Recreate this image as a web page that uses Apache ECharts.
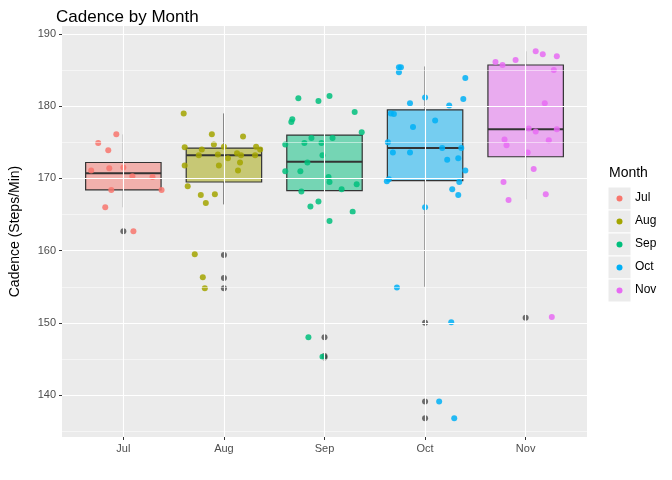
<!DOCTYPE html>
<html>
<head>
<meta charset="utf-8">
<script src="https://cdn.jsdelivr.net/npm/echarts@6/dist/echarts.min.js"></script>
<style>html,body{margin:0;padding:0;background:#fff}#chart{width:672px;height:480px}</style>
</head>
<body>
<div id="chart"></div>
<script>
// 月份 & 颜色
const months = ['Jul', 'Aug', 'Sep', 'Oct', 'Nov'];
const colors = ['#F8766D', '#A3A500', '#00BF7D', '#00B0F6', '#E76BF3'];
const yTicks = [140, 150, 160, 170, 180, 190];

// 箱线: [下须, Q1, 中位数, Q3, 上须]
const boxStats = [
    [166.0, 168.4, 170.7, 172.2, 176.1],
    [166.4, 169.5, 173.2, 174.2, 179.0],
    [164.1, 168.3, 172.3, 176.0, 181.5],
    [155.0, 169.7, 174.2, 179.5, 185.5],
    [167.1, 173.0, 176.8, 185.7, 187.6]
];

// 离群点 [组序号, 值]
const outliers = [
    [1, 162.7], [2, 159.4], [2, 156.2], [2, 154.8], [3, 148.0], [3, 145.4], [3, 145.2],
    [4, 150.0], [4, 139.1], [4, 136.8], [5, 150.7]
];

// 抖动点 [偏移, 值]
const julPts = [[-.07,176.1],[-.25,174.9],[-.15,173.9],[-.32,171.1],[-.14,171.4],[0,171.5],[.09,170.3],[.29,170.2],[-.12,168.4],[.38,168.4],[-.18,166.0],[.10,162.7]];
const augPts = [[-.4,179.0],[-.12,176.1],[.19,175.8],[-.1,174.7],[-.39,174.3],[0,174.4],[.32,174.4],[-.22,174.0],[.36,174.0],[-.25,173.2],[-.06,173.3],[.13,173.5],[.17,173.2],[.31,173.2],[.04,172.8],[.16,172.2],[-.39,171.8],[-.05,171.8],[.14,171.1],[-.36,168.9],[-.23,167.7],[-.09,167.8],[-.18,166.6],[-.29,159.5],[-.21,156.3],[-.19,154.8]];
const sepPts = [[-.26,181.1],[-.06,180.7],[.05,181.4],[.3,179.2],[-.32,178.2],[-.33,177.8],[.37,176.4],[-.13,175.6],[.08,175.6],[-.39,174.7],[-.2,174.9],[-.03,174.9],[-.02,173.2],[-.17,172.2],[-.39,171.0],[-.24,171.0],[.04,170.2],[.05,169.5],[.32,169.2],[.17,168.5],[-.23,168.2],[-.06,166.8],[-.14,166.1],[.28,165.4],[.05,164.1],[-.16,148.0],[-.02,145.3]];
const octPts = [[-.26,185.4],[-.24,185.4],[-.26,184.7],[.4,183.9],[-.15,180.4],[0,181.2],[.24,180.1],[.38,181.0],[-.34,179.0],[-.31,178.9],[-.12,177.1],[.1,178.0],[-.37,175.0],[-.32,173.6],[-.15,173.6],[.17,174.2],[.36,174.2],[.22,172.6],[.33,172.8],[.4,171.1],[-.38,169.6],[-.36,169.9],[.34,169.5],[.27,168.5],[.33,167.7],[0,166.0],[-.28,154.9],[.26,150.1],[.14,139.1],[.29,136.8]];
const novPts = [[.1,187.6],[.17,187.2],[.31,186.9],[-.3,186.1],[-.23,185.7],[-.1,186.4],[.28,185.0],[.19,180.4],[.03,176.9],[.1,176.5],[.31,176.8],[-.21,175.4],[.23,175.3],[-.19,174.6],[.02,173.6],[.08,171.3],[-.22,169.5],[.2,167.8],[-.17,167.0],[.26,150.8]];
const allPts = [julPts, augPts, sepPts, octPts, novPts];

let myChart = echarts.init(document.getElementById('chart'));

// 网格线（主/次）
let gridLines = [];
for (let v = 135; v <= 190; v += 5) {
    gridLines.push({ yAxis: v, lineStyle: { color: '#fff', width: v % 10 === 0 ? 1.1 : 0.5, type: 'solid' } });
}
for (let i = 1; i <= 5; i++) {
    gridLines.push({ xAxis: i, lineStyle: { color: '#fff', width: 1.1, type: 'solid' } });
}

let series = [{
    type: 'scatter',
    data: [],
    silent: true,
    markLine: { silent: true, symbol: 'none', label: { show: false }, data: gridLines },
    z: 1
}];

// 箱体
series.push({
    type: 'custom',
    z: 2,
    silent: true,
    data: boxStats.map((s, i) => [i + 1].concat(s)),
    renderItem: function (params, api) {
        let x = api.value(0), i = params.dataIndex;
        let lo = api.coord([x, api.value(1)]), q1 = api.coord([x - 0.375, api.value(2)]);
        let md = api.coord([x, api.value(3)]), q3 = api.coord([x + 0.375, api.value(4)]);
        let hi = api.coord([x, api.value(5)]);
        let st = { stroke: '#333', lineWidth: 1 };
        return {
            type: 'group',
            children: [
                { type: 'line', shape: { x1: lo[0], y1: lo[1], x2: lo[0], y2: q1[1] }, style: st },
                { type: 'line', shape: { x1: hi[0], y1: hi[1], x2: hi[0], y2: q3[1] }, style: st },
                { type: 'rect', shape: { x: q1[0], y: q3[1], width: q3[0] - q1[0], height: q1[1] - q3[1] },
                  style: { fill: colors[i], opacity: 0.5, stroke: 'transparent' } },
                { type: 'rect', shape: { x: q1[0], y: q3[1], width: q3[0] - q1[0], height: q1[1] - q3[1] },
                  style: { fill: 'none', stroke: '#333', lineWidth: 1.2 } },
                { type: 'line', shape: { x1: q1[0], y1: md[1], x2: q3[0], y2: md[1] }, style: { stroke: '#333', lineWidth: 2 } }
            ]
        };
    }
});

series.push({
    type: 'scatter', z: 3, silent: true, symbolSize: 6,
    itemStyle: { color: '#333', opacity: 0.7 },
    data: outliers
});

allPts.forEach((pts, i) => {
    series.push({
        type: 'scatter', name: months[i], z: 4, silent: true, symbolSize: 6,
        itemStyle: { color: colors[i], opacity: 0.85 },
        data: pts.map(p => [i + 1 + p[0], p[1]])
    });
});

// 图例
let legendItems = [{ type: 'text', left: 609, top: 166, style: { text: 'Month', fontSize: 14, fill: '#000', fontFamily: 'Liberation Sans' } }];
months.forEach((m, i) => {
    let y = 187 + i * 23;
    legendItems.push({ type: 'rect', shape: { x: 608, y: y, width: 23, height: 23 }, style: { fill: '#EBEBEB', stroke: '#fff', lineWidth: 1 } });
    legendItems.push({ type: 'circle', shape: { cx: 619.5, cy: y + 11.5, r: 3 }, style: { fill: colors[i] } });
    legendItems.push({ type: 'text', left: 635, top: y + 5, style: { text: m, fontSize: 12, fill: '#000', fontFamily: 'Liberation Sans' } });
});

let option = {
    animation: false,
    textStyle: { fontFamily: 'Liberation Sans' },
    title: { text: 'Cadence by Month', left: 51, top: 4, textStyle: { fontSize: 17, fontWeight: 'normal', color: '#000' } },
    grid: { left: 57, right: 85, top: 26, bottom: 43, show: true, backgroundColor: '#EBEBEB', borderWidth: 0 },
    xAxis: {
        type: 'value', min: 0.39, max: 5.61,
        splitLine: { show: false },
        axisLine: { show: false },
        axisTick: { show: true, length: 3, customValues: [1, 2, 3, 4, 5], lineStyle: { color: '#333' } },
        axisLabel: { customValues: [1, 2, 3, 4, 5], color: '#4D4D4D', fontSize: 11, margin: 6,
            formatter: v => months[Math.round(v) - 1] }
    },
    yAxis: {
        type: 'value', min: 134.2, max: 191.1,
        name: 'Cadence (Steps/Min)', nameLocation: 'middle', nameGap: 40,
        nameTextStyle: { fontSize: 14, color: '#000' },
        splitLine: { show: false },
        axisLine: { show: false },
        axisTick: { show: true, length: 3, customValues: yTicks, lineStyle: { color: '#333' } },
        axisLabel: { customValues: yTicks, color: '#4D4D4D', fontSize: 11, margin: 6 }
    },
    graphic: legendItems,
    series: series
};
myChart.setOption(option);
</script>
</body>
</html>
